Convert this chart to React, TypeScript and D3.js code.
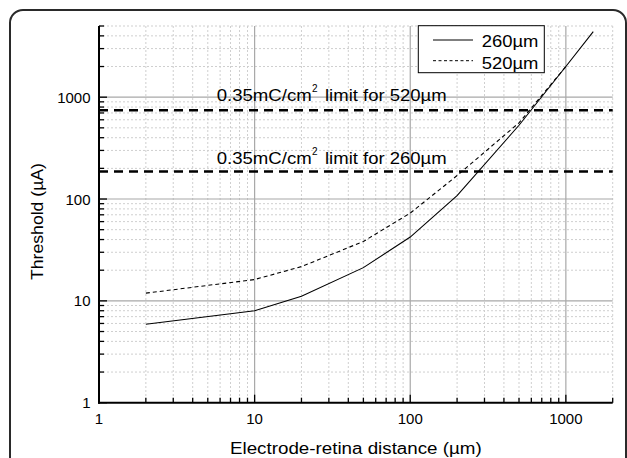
import React from 'react';
import * as d3 from 'd3';

const distance260 = [2, 10, 20, 50, 100, 200, 500, 1000, 1500];
const threshold260 = [5.9, 8.0, 11.1, 21.2, 42.3, 108, 530, 2000, 4400];
const distance520 = [2, 10, 20, 50, 100, 200, 500, 1000];
const threshold520 = [11.9, 16.2, 21.7, 38.3, 72.8, 170, 560, 2000];
const limitValues = [743, 186];
const limitLabels = ['520µm', '260µm'];
const seriesNames = ['260µm', '520µm'];
const xDomain = [1, 2000];
const yDomain = [1, 5000];
const majorTickLabels = ['1', '10', '100', '1000'];

const W = 627;
const H = 458;
const L = 99;
const R = 612.7;
const T = 26;
const B = 402.7;
const FONT = '"Liberation Sans", Arial, sans-serif';

export default function App() {
  const x = d3.scaleLog().domain(xDomain).range([L, R]);
  const y = d3.scaleLog().domain(yDomain).range([B, T]);
  const isMajor = (v: number) => Math.abs(Math.log10(v) - Math.round(Math.log10(v))) < 1e-9;
  const xTicks = x.ticks();
  const yTicks = y.ticks();
  const line = d3
    .line<[number, number]>()
    .x((d) => x(d[0]))
    .y((d) => y(d[1]));
  const d260 = line(distance260.map((d, i) => [d, threshold260[i]]));
  const d520 = line(distance520.map((d, i) => [d, threshold520[i]]));

  return (
    <svg
      width={W}
      height={H}
      style={{ position: 'absolute', left: 0, top: 0, background: '#fff' }}
      fontFamily={FONT}
    >
      <rect x={0} y={0} width={W} height={H} fill="#fff" />
      <rect x={10} y={10} width={616} height={490} rx={13} ry={13} fill="none" stroke="#2a2a2a" strokeWidth={2} />

      {/* minor grid */}
      {xTicks.filter((v) => !isMajor(v)).map((v) => (
        <line key={'xm' + v} x1={x(v)} x2={x(v)} y1={T} y2={B} stroke="#cfcfcf" strokeWidth={1} strokeDasharray="2,2" />
      ))}
      {yTicks.filter((v) => !isMajor(v)).map((v) => (
        <line key={'ym' + v} x1={L} x2={R} y1={y(v)} y2={y(v)} stroke="#cfcfcf" strokeWidth={1} strokeDasharray="2,2" />
      ))}
      {/* major grid */}
      {xTicks.filter((v) => isMajor(v) && v > 1).map((v) => (
        <line key={'xM' + v} x1={x(v)} x2={x(v)} y1={T} y2={B} stroke="#a8a8a8" strokeWidth={1.2} />
      ))}
      {yTicks.filter((v) => isMajor(v) && v > 1).map((v) => (
        <line key={'yM' + v} x1={L} x2={R} y1={y(v)} y2={y(v)} stroke="#a8a8a8" strokeWidth={1.2} />
      ))}

      {/* limit lines */}
      {limitValues.map((v, i) => (
        <g key={'lim' + i}>
          <line x1={L} x2={R} y1={y(v)} y2={y(v)} stroke="#000" strokeWidth={2.6} strokeDasharray="9,6" />
        </g>
      ))}
      {limitValues.map((v, i) => {
        const by = y(v) - (i === 0 ? 9.4 : 7.6);
        return (
          <g key={'limt' + i} fontSize={16.8} fill="#000">
            <text x={216.7} y={by} textLength={95} lengthAdjust="spacingAndGlyphs">0.35mC/cm</text>
            <text x={312} y={by - 9} fontSize={10}>2</text>
            <text x={325} y={by} textLength={121.7} lengthAdjust="spacingAndGlyphs">{'limit for ' + limitLabels[i]}</text>
          </g>
        );
      })}

      {/* curves */}
      <path d={d260 || ''} fill="none" stroke="#000" strokeWidth={1.1} />
      <path d={d520 || ''} fill="none" stroke="#000" strokeWidth={1.1} strokeDasharray="4,3" />

      {/* axes */}
      <line x1={L} x2={L} y1={T} y2={B + 1} stroke="#000" strokeWidth={2} />
      <line x1={L - 1} x2={R} y1={B} y2={B} stroke="#000" strokeWidth={2} />
      {xTicks.map((v) => (
        <line key={'xt' + v} x1={x(v)} x2={x(v)} y1={B} y2={B - (isMajor(v) ? 8 : 5)} stroke="#000" strokeWidth={1.3} />
      ))}
      {yTicks.map((v) => (
        <line key={'yt' + v} x1={L} x2={L + (isMajor(v) ? 8 : 5)} y1={y(v)} y2={y(v)} stroke="#000" strokeWidth={1.3} />
      ))}
      {xTicks.filter(isMajor).map((v, i) => (
        <text key={'xl' + v} x={x(v)} y={424} textAnchor="middle" fontSize={15}>
          {majorTickLabels[i]}
        </text>
      ))}
      {yTicks.filter(isMajor).map((v, i) => (
        <text key={'yl' + v} x={90.5} y={y(v) + 5.5} textAnchor="end" fontSize={15}>
          {majorTickLabels[i]}
        </text>
      ))}

      {/* axis titles */}
      <text x={230} y={454} fontSize={16} textLength={251.7} lengthAdjust="spacingAndGlyphs">
        Electrode-retina distance (µm)
      </text>
      <text
        transform="translate(42.7,221.5) rotate(-90)"
        textAnchor="middle"
        fontSize={16.8}
        textLength={117}
        lengthAdjust="spacingAndGlyphs"
      >
        Threshold (µA)
      </text>

      {/* legend */}
      <rect x={418.3} y={25.7} width={126} height={47} fill="#fff" stroke="#000" strokeWidth={1} />
      <line x1={433} x2={473} y1={40} y2={40} stroke="#000" strokeWidth={1} />
      <line x1={433} x2={473} y1={60.7} y2={60.7} stroke="#000" strokeWidth={1} strokeDasharray="3,2.5" />
      <text x={481.7} y={46.7} fontSize={16.3} textLength={56.7} lengthAdjust="spacingAndGlyphs">{seriesNames[0]}</text>
      <text x={481.7} y={69} fontSize={16.3} textLength={56.7} lengthAdjust="spacingAndGlyphs">{seriesNames[1]}</text>
    </svg>
  );
}
